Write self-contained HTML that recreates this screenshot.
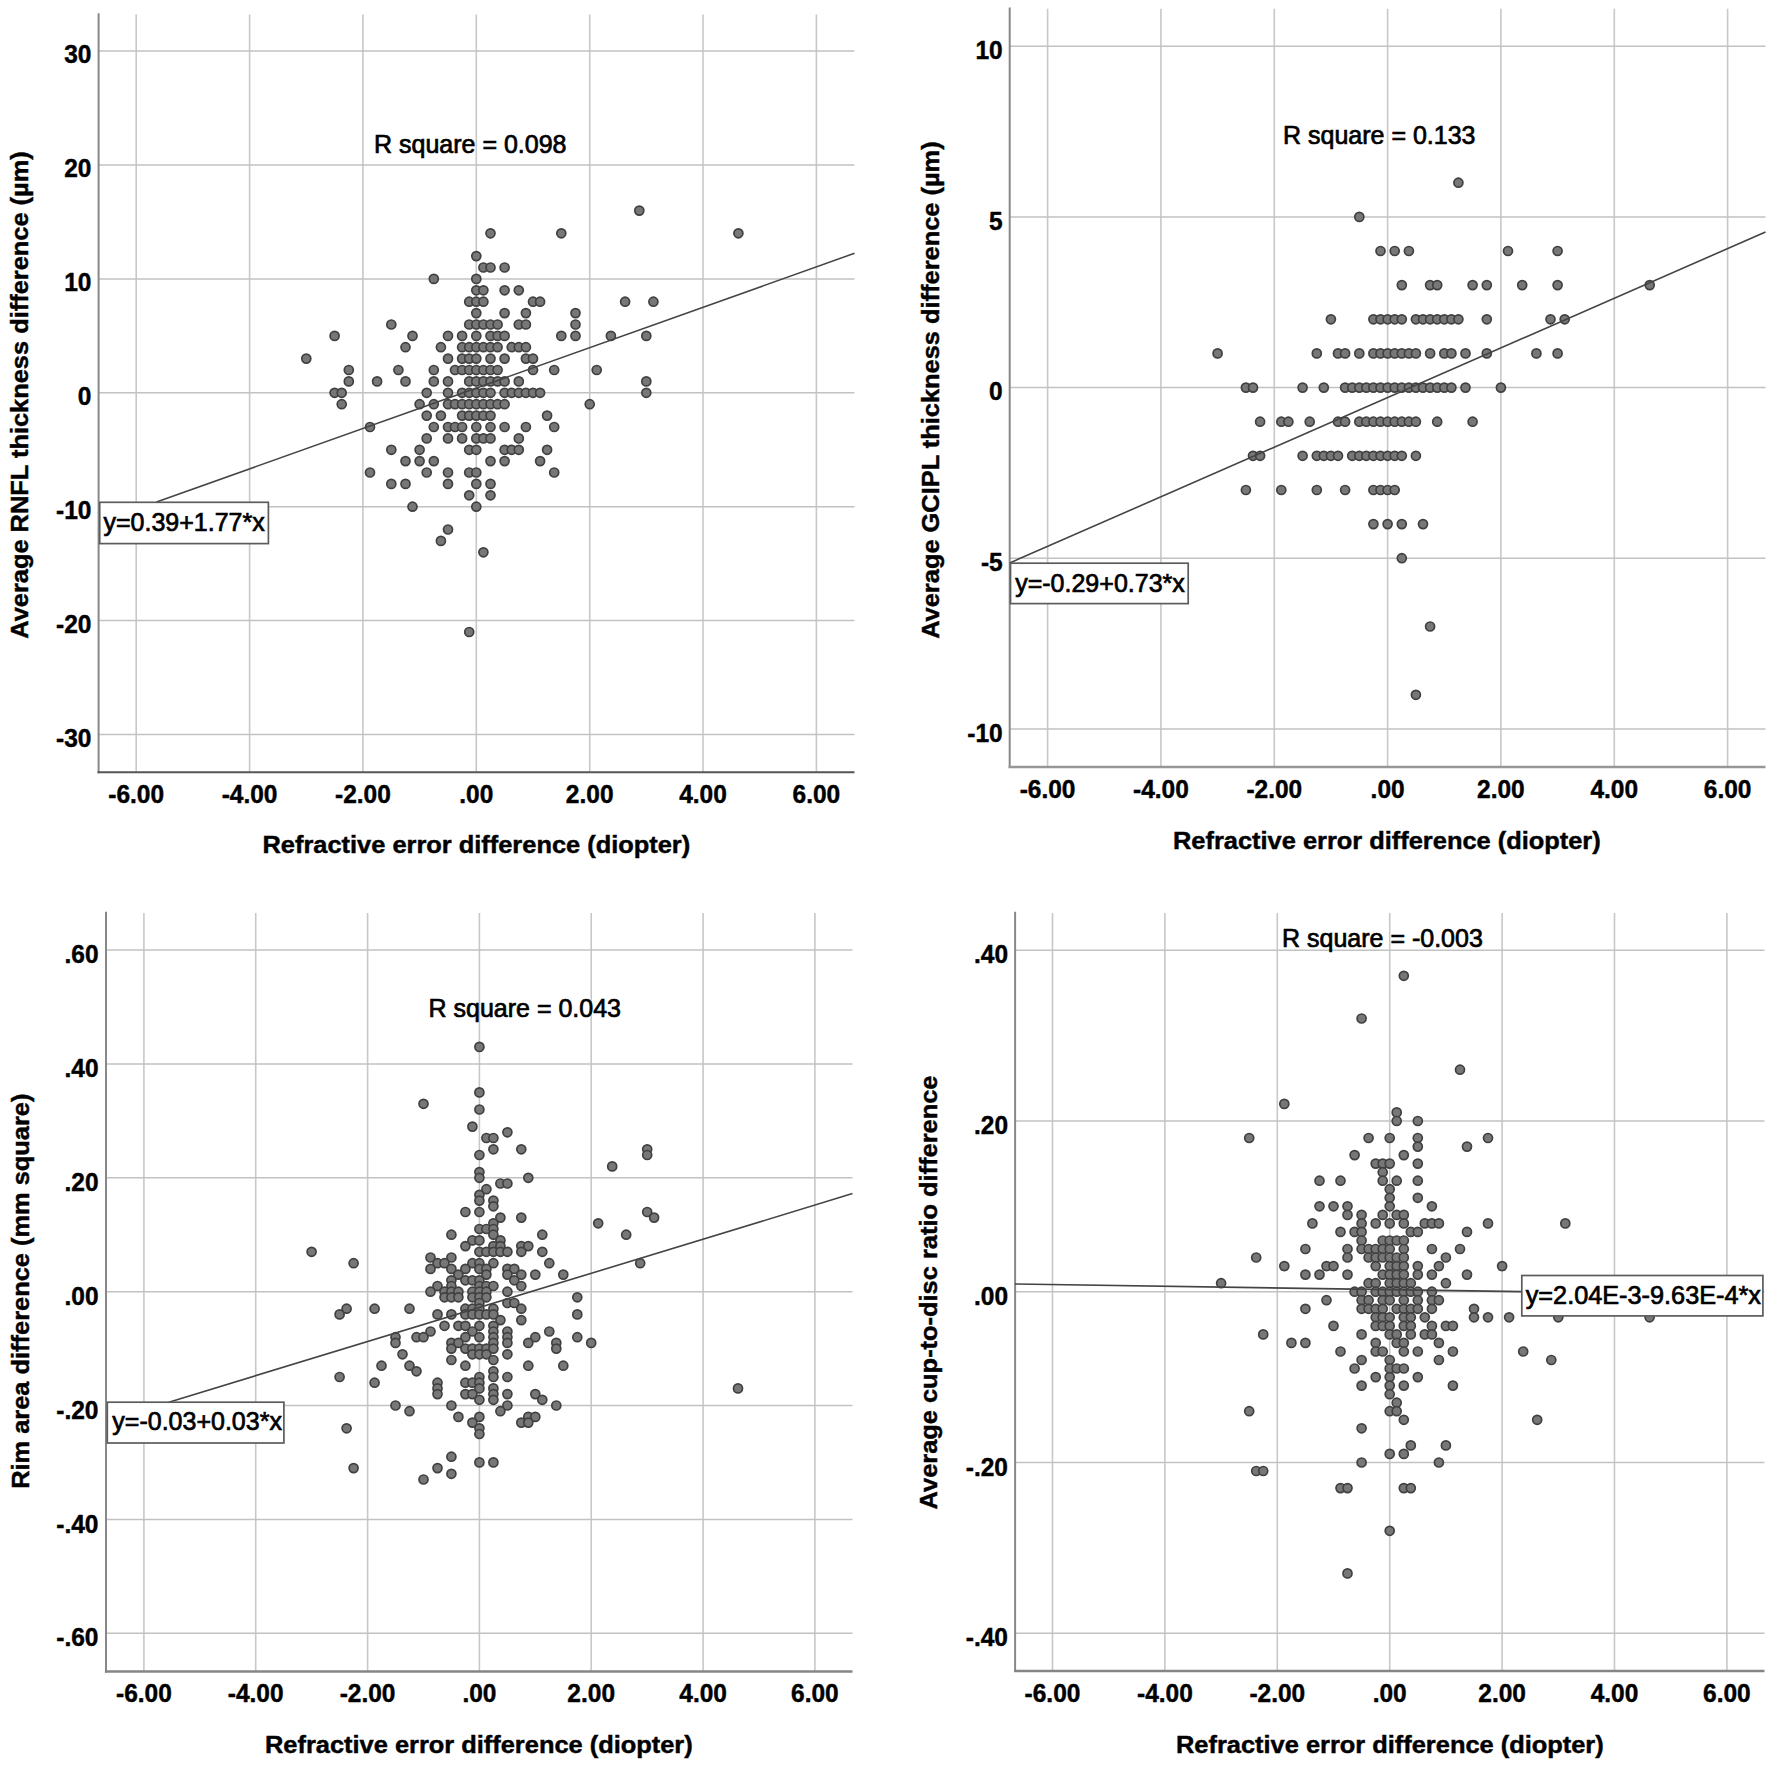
<!DOCTYPE html>
<html lang="en"><head><meta charset="utf-8"><title>Scatter plots: inter-eye differences vs refractive error difference</title>
<style>
html,body{margin:0;padding:0;background:#fff}
body{width:1774px;height:1771px;overflow:hidden}
svg{display:block}
text{font-family:"Liberation Sans",Arial,Helvetica,sans-serif;fill:#000;stroke:#000;stroke-width:0.45;paint-order:stroke fill}
.b{font-weight:700}
.r{font-weight:400;stroke-width:0.7}
.d circle{fill:#777777;stroke:#404040;stroke-width:1.7}
.gv line{stroke:#c8c8c8;stroke-width:1.6}
.gh line{stroke:#c2c2c2;stroke-width:1.5}
</style></head><body>
<svg width="1774" height="1771" viewBox="0 0 1774 1771">
<rect width="1774" height="1771" fill="#fff"/>
<g id="p1">
<g class="gv">
<line x1="136.2" y1="14.4" x2="136.2" y2="772.2"/>
<line x1="249.6" y1="14.4" x2="249.6" y2="772.2"/>
<line x1="362.9" y1="14.4" x2="362.9" y2="772.2"/>
<line x1="476.3" y1="14.4" x2="476.3" y2="772.2"/>
<line x1="589.7" y1="14.4" x2="589.7" y2="772.2"/>
<line x1="703" y1="14.4" x2="703" y2="772.2"/>
<line x1="816.4" y1="14.4" x2="816.4" y2="772.2"/>
</g><g class="gh">
<line x1="98.6" y1="51.1" x2="854.5" y2="51.1"/>
<line x1="98.6" y1="165" x2="854.5" y2="165"/>
<line x1="98.6" y1="278.9" x2="854.5" y2="278.9"/>
<line x1="98.6" y1="392.8" x2="854.5" y2="392.8"/>
<line x1="98.6" y1="506.7" x2="854.5" y2="506.7"/>
<line x1="98.6" y1="620.6" x2="854.5" y2="620.6"/>
<line x1="98.6" y1="734.5" x2="854.5" y2="734.5"/>
</g>
<line x1="98.6" y1="13.2" x2="98.6" y2="773.2" stroke="#888888" stroke-width="2"/>
<line x1="97.5" y1="772.2" x2="854.5" y2="772.2" stroke="#555555" stroke-width="2.0"/>
<g class="d">
<circle cx="639.3" cy="210.6" r="4.5"/>
<circle cx="490.5" cy="233.3" r="4.5"/>
<circle cx="561.3" cy="233.3" r="4.5"/>
<circle cx="738.4" cy="233.3" r="4.5"/>
<circle cx="476.3" cy="256.1" r="4.5"/>
<circle cx="483.4" cy="267.5" r="4.5"/>
<circle cx="490.5" cy="267.5" r="4.5"/>
<circle cx="504.6" cy="267.5" r="4.5"/>
<circle cx="433.8" cy="278.9" r="4.5"/>
<circle cx="476.3" cy="278.9" r="4.5"/>
<circle cx="476.3" cy="290.3" r="4.5"/>
<circle cx="483.4" cy="290.3" r="4.5"/>
<circle cx="504.6" cy="290.3" r="4.5"/>
<circle cx="518.8" cy="290.3" r="4.5"/>
<circle cx="469.2" cy="301.7" r="4.5"/>
<circle cx="476.3" cy="301.7" r="4.5"/>
<circle cx="483.4" cy="301.7" r="4.5"/>
<circle cx="533" cy="301.7" r="4.5"/>
<circle cx="540.1" cy="301.7" r="4.5"/>
<circle cx="625.1" cy="301.7" r="4.5"/>
<circle cx="653.4" cy="301.7" r="4.5"/>
<circle cx="476.3" cy="313.1" r="4.5"/>
<circle cx="504.6" cy="313.1" r="4.5"/>
<circle cx="525.9" cy="313.1" r="4.5"/>
<circle cx="575.5" cy="313.1" r="4.5"/>
<circle cx="391.3" cy="324.5" r="4.5"/>
<circle cx="469.2" cy="324.5" r="4.5"/>
<circle cx="476.3" cy="324.5" r="4.5"/>
<circle cx="483.4" cy="324.5" r="4.5"/>
<circle cx="490.5" cy="324.5" r="4.5"/>
<circle cx="497.6" cy="324.5" r="4.5"/>
<circle cx="518.8" cy="324.5" r="4.5"/>
<circle cx="525.9" cy="324.5" r="4.5"/>
<circle cx="575.5" cy="324.5" r="4.5"/>
<circle cx="334.6" cy="335.9" r="4.5"/>
<circle cx="412.5" cy="335.9" r="4.5"/>
<circle cx="448" cy="335.9" r="4.5"/>
<circle cx="462.1" cy="335.9" r="4.5"/>
<circle cx="476.3" cy="335.9" r="4.5"/>
<circle cx="490.5" cy="335.9" r="4.5"/>
<circle cx="497.6" cy="335.9" r="4.5"/>
<circle cx="504.6" cy="335.9" r="4.5"/>
<circle cx="561.3" cy="335.9" r="4.5"/>
<circle cx="575.5" cy="335.9" r="4.5"/>
<circle cx="610.9" cy="335.9" r="4.5"/>
<circle cx="646.3" cy="335.9" r="4.5"/>
<circle cx="405.5" cy="347.2" r="4.5"/>
<circle cx="440.9" cy="347.2" r="4.5"/>
<circle cx="462.1" cy="347.2" r="4.5"/>
<circle cx="469.2" cy="347.2" r="4.5"/>
<circle cx="476.3" cy="347.2" r="4.5"/>
<circle cx="483.4" cy="347.2" r="4.5"/>
<circle cx="490.5" cy="347.2" r="4.5"/>
<circle cx="497.6" cy="347.2" r="4.5"/>
<circle cx="511.7" cy="347.2" r="4.5"/>
<circle cx="518.8" cy="347.2" r="4.5"/>
<circle cx="525.9" cy="347.2" r="4.5"/>
<circle cx="306.3" cy="358.6" r="4.5"/>
<circle cx="448" cy="358.6" r="4.5"/>
<circle cx="462.1" cy="358.6" r="4.5"/>
<circle cx="469.2" cy="358.6" r="4.5"/>
<circle cx="476.3" cy="358.6" r="4.5"/>
<circle cx="490.5" cy="358.6" r="4.5"/>
<circle cx="504.6" cy="358.6" r="4.5"/>
<circle cx="525.9" cy="358.6" r="4.5"/>
<circle cx="533" cy="358.6" r="4.5"/>
<circle cx="348.8" cy="370" r="4.5"/>
<circle cx="398.4" cy="370" r="4.5"/>
<circle cx="433.8" cy="370" r="4.5"/>
<circle cx="455" cy="370" r="4.5"/>
<circle cx="462.1" cy="370" r="4.5"/>
<circle cx="469.2" cy="370" r="4.5"/>
<circle cx="476.3" cy="370" r="4.5"/>
<circle cx="483.4" cy="370" r="4.5"/>
<circle cx="490.5" cy="370" r="4.5"/>
<circle cx="497.6" cy="370" r="4.5"/>
<circle cx="533" cy="370" r="4.5"/>
<circle cx="554.2" cy="370" r="4.5"/>
<circle cx="596.7" cy="370" r="4.5"/>
<circle cx="348.8" cy="381.4" r="4.5"/>
<circle cx="377.1" cy="381.4" r="4.5"/>
<circle cx="405.5" cy="381.4" r="4.5"/>
<circle cx="433.8" cy="381.4" r="4.5"/>
<circle cx="448" cy="381.4" r="4.5"/>
<circle cx="469.2" cy="381.4" r="4.5"/>
<circle cx="476.3" cy="381.4" r="4.5"/>
<circle cx="483.4" cy="381.4" r="4.5"/>
<circle cx="490.5" cy="381.4" r="4.5"/>
<circle cx="497.6" cy="381.4" r="4.5"/>
<circle cx="504.6" cy="381.4" r="4.5"/>
<circle cx="518.8" cy="381.4" r="4.5"/>
<circle cx="646.3" cy="381.4" r="4.5"/>
<circle cx="334.6" cy="392.8" r="4.5"/>
<circle cx="341.7" cy="392.8" r="4.5"/>
<circle cx="426.7" cy="392.8" r="4.5"/>
<circle cx="448" cy="392.8" r="4.5"/>
<circle cx="462.1" cy="392.8" r="4.5"/>
<circle cx="469.2" cy="392.8" r="4.5"/>
<circle cx="476.3" cy="392.8" r="4.5"/>
<circle cx="483.4" cy="392.8" r="4.5"/>
<circle cx="490.5" cy="392.8" r="4.5"/>
<circle cx="504.6" cy="392.8" r="4.5"/>
<circle cx="511.7" cy="392.8" r="4.5"/>
<circle cx="518.8" cy="392.8" r="4.5"/>
<circle cx="525.9" cy="392.8" r="4.5"/>
<circle cx="533" cy="392.8" r="4.5"/>
<circle cx="540.1" cy="392.8" r="4.5"/>
<circle cx="646.3" cy="392.8" r="4.5"/>
<circle cx="341.7" cy="404.2" r="4.5"/>
<circle cx="419.6" cy="404.2" r="4.5"/>
<circle cx="433.8" cy="404.2" r="4.5"/>
<circle cx="448" cy="404.2" r="4.5"/>
<circle cx="455" cy="404.2" r="4.5"/>
<circle cx="462.1" cy="404.2" r="4.5"/>
<circle cx="469.2" cy="404.2" r="4.5"/>
<circle cx="476.3" cy="404.2" r="4.5"/>
<circle cx="483.4" cy="404.2" r="4.5"/>
<circle cx="490.5" cy="404.2" r="4.5"/>
<circle cx="497.6" cy="404.2" r="4.5"/>
<circle cx="504.6" cy="404.2" r="4.5"/>
<circle cx="589.7" cy="404.2" r="4.5"/>
<circle cx="426.7" cy="415.6" r="4.5"/>
<circle cx="440.9" cy="415.6" r="4.5"/>
<circle cx="462.1" cy="415.6" r="4.5"/>
<circle cx="469.2" cy="415.6" r="4.5"/>
<circle cx="476.3" cy="415.6" r="4.5"/>
<circle cx="483.4" cy="415.6" r="4.5"/>
<circle cx="490.5" cy="415.6" r="4.5"/>
<circle cx="547.1" cy="415.6" r="4.5"/>
<circle cx="370" cy="427" r="4.5"/>
<circle cx="433.8" cy="427" r="4.5"/>
<circle cx="448" cy="427" r="4.5"/>
<circle cx="455" cy="427" r="4.5"/>
<circle cx="462.1" cy="427" r="4.5"/>
<circle cx="476.3" cy="427" r="4.5"/>
<circle cx="490.5" cy="427" r="4.5"/>
<circle cx="504.6" cy="427" r="4.5"/>
<circle cx="525.9" cy="427" r="4.5"/>
<circle cx="554.2" cy="427" r="4.5"/>
<circle cx="426.7" cy="438.4" r="4.5"/>
<circle cx="448" cy="438.4" r="4.5"/>
<circle cx="462.1" cy="438.4" r="4.5"/>
<circle cx="476.3" cy="438.4" r="4.5"/>
<circle cx="483.4" cy="438.4" r="4.5"/>
<circle cx="490.5" cy="438.4" r="4.5"/>
<circle cx="518.8" cy="438.4" r="4.5"/>
<circle cx="391.3" cy="449.8" r="4.5"/>
<circle cx="419.6" cy="449.8" r="4.5"/>
<circle cx="469.2" cy="449.8" r="4.5"/>
<circle cx="476.3" cy="449.8" r="4.5"/>
<circle cx="504.6" cy="449.8" r="4.5"/>
<circle cx="511.7" cy="449.8" r="4.5"/>
<circle cx="518.8" cy="449.8" r="4.5"/>
<circle cx="547.1" cy="449.8" r="4.5"/>
<circle cx="405.5" cy="461.1" r="4.5"/>
<circle cx="419.6" cy="461.1" r="4.5"/>
<circle cx="433.8" cy="461.1" r="4.5"/>
<circle cx="490.5" cy="461.1" r="4.5"/>
<circle cx="504.6" cy="461.1" r="4.5"/>
<circle cx="540.1" cy="461.1" r="4.5"/>
<circle cx="370" cy="472.5" r="4.5"/>
<circle cx="426.7" cy="472.5" r="4.5"/>
<circle cx="448" cy="472.5" r="4.5"/>
<circle cx="469.2" cy="472.5" r="4.5"/>
<circle cx="476.3" cy="472.5" r="4.5"/>
<circle cx="554.2" cy="472.5" r="4.5"/>
<circle cx="391.3" cy="483.9" r="4.5"/>
<circle cx="405.5" cy="483.9" r="4.5"/>
<circle cx="448" cy="483.9" r="4.5"/>
<circle cx="476.3" cy="483.9" r="4.5"/>
<circle cx="490.5" cy="483.9" r="4.5"/>
<circle cx="469.2" cy="495.3" r="4.5"/>
<circle cx="490.5" cy="495.3" r="4.5"/>
<circle cx="412.5" cy="506.7" r="4.5"/>
<circle cx="476.3" cy="506.7" r="4.5"/>
<circle cx="448" cy="529.5" r="4.5"/>
<circle cx="440.9" cy="540.9" r="4.5"/>
<circle cx="483.4" cy="552.3" r="4.5"/>
<circle cx="469.2" cy="632" r="4.5"/>
</g>
<line x1="156.5" y1="502" x2="854.5" y2="253.3" stroke="#444" stroke-width="1.6"/>
<rect x="99.7" y="502.3" width="168.7" height="41.3" fill="#fff" stroke="#5c5c5c" stroke-width="1.7"/>
<text class="r" x="103.5" y="530.6" font-size="25" textLength="161.2" lengthAdjust="spacingAndGlyphs">y=0.39+1.77*x</text>
<text class="r" x="374" y="153.2" font-size="25">R square = 0.098</text>
<text class="b" x="91.4" y="63.3" font-size="25.2" text-anchor="end" textLength="27.2" lengthAdjust="spacingAndGlyphs">30</text>
<text class="b" x="91.4" y="177.2" font-size="25.2" text-anchor="end" textLength="27.2" lengthAdjust="spacingAndGlyphs">20</text>
<text class="b" x="91.4" y="291.1" font-size="25.2" text-anchor="end" textLength="27.2" lengthAdjust="spacingAndGlyphs">10</text>
<text class="b" x="91.4" y="405" font-size="25.2" text-anchor="end" textLength="13.6" lengthAdjust="spacingAndGlyphs">0</text>
<text class="b" x="91.4" y="518.9" font-size="25.2" text-anchor="end" textLength="35.4" lengthAdjust="spacingAndGlyphs">-10</text>
<text class="b" x="91.4" y="632.8" font-size="25.2" text-anchor="end" textLength="35.4" lengthAdjust="spacingAndGlyphs">-20</text>
<text class="b" x="91.4" y="746.7" font-size="25.2" text-anchor="end" textLength="35.4" lengthAdjust="spacingAndGlyphs">-30</text>
<text class="b" x="136.2" y="802.8" font-size="25.2" text-anchor="middle" textLength="55.8" lengthAdjust="spacingAndGlyphs">-6.00</text>
<text class="b" x="249.6" y="802.8" font-size="25.2" text-anchor="middle" textLength="55.8" lengthAdjust="spacingAndGlyphs">-4.00</text>
<text class="b" x="362.9" y="802.8" font-size="25.2" text-anchor="middle" textLength="55.8" lengthAdjust="spacingAndGlyphs">-2.00</text>
<text class="b" x="476.3" y="802.8" font-size="25.2" text-anchor="middle" textLength="34" lengthAdjust="spacingAndGlyphs">.00</text>
<text class="b" x="589.7" y="802.8" font-size="25.2" text-anchor="middle" textLength="47.7" lengthAdjust="spacingAndGlyphs">2.00</text>
<text class="b" x="703" y="802.8" font-size="25.2" text-anchor="middle" textLength="47.7" lengthAdjust="spacingAndGlyphs">4.00</text>
<text class="b" x="816.4" y="802.8" font-size="25.2" text-anchor="middle" textLength="47.7" lengthAdjust="spacingAndGlyphs">6.00</text>
<text class="b" x="262.5" y="853" font-size="24.6" textLength="427.7" lengthAdjust="spacingAndGlyphs">Refractive error difference (diopter)</text>
<text class="b" transform="translate(28.4 395) rotate(-90)" font-size="24.6" text-anchor="middle" textLength="487.5" lengthAdjust="spacingAndGlyphs">Average RNFL thickness difference (µm)</text>
</g>
<g id="p2">
<g class="gv">
<line x1="1047.6" y1="8.8" x2="1047.6" y2="767"/>
<line x1="1160.9" y1="8.8" x2="1160.9" y2="767"/>
<line x1="1274.3" y1="8.8" x2="1274.3" y2="767"/>
<line x1="1387.6" y1="8.8" x2="1387.6" y2="767"/>
<line x1="1500.9" y1="8.8" x2="1500.9" y2="767"/>
<line x1="1614.3" y1="8.8" x2="1614.3" y2="767"/>
<line x1="1727.6" y1="8.8" x2="1727.6" y2="767"/>
</g><g class="gh">
<line x1="1009.7" y1="46.2" x2="1765.5" y2="46.2"/>
<line x1="1009.7" y1="216.9" x2="1765.5" y2="216.9"/>
<line x1="1009.7" y1="387.6" x2="1765.5" y2="387.6"/>
<line x1="1009.7" y1="558.2" x2="1765.5" y2="558.2"/>
<line x1="1009.7" y1="728.9" x2="1765.5" y2="728.9"/>
</g>
<line x1="1009.7" y1="7.6" x2="1009.7" y2="768" stroke="#888888" stroke-width="2"/>
<line x1="1008.6" y1="767" x2="1765.5" y2="767" stroke="#969696" stroke-width="2.6"/>
<g class="d">
<circle cx="1458.4" cy="182.7" r="4.5"/>
<circle cx="1359.3" cy="216.9" r="4.5"/>
<circle cx="1380.5" cy="251" r="4.5"/>
<circle cx="1394.7" cy="251" r="4.5"/>
<circle cx="1408.9" cy="251" r="4.5"/>
<circle cx="1508" cy="251" r="4.5"/>
<circle cx="1557.6" cy="251" r="4.5"/>
<circle cx="1401.8" cy="285.1" r="4.5"/>
<circle cx="1430.1" cy="285.1" r="4.5"/>
<circle cx="1437.2" cy="285.1" r="4.5"/>
<circle cx="1472.6" cy="285.1" r="4.5"/>
<circle cx="1486.8" cy="285.1" r="4.5"/>
<circle cx="1522.2" cy="285.1" r="4.5"/>
<circle cx="1557.6" cy="285.1" r="4.5"/>
<circle cx="1649.7" cy="285.1" r="4.5"/>
<circle cx="1330.9" cy="319.3" r="4.5"/>
<circle cx="1373.4" cy="319.3" r="4.5"/>
<circle cx="1380.5" cy="319.3" r="4.5"/>
<circle cx="1387.6" cy="319.3" r="4.5"/>
<circle cx="1394.7" cy="319.3" r="4.5"/>
<circle cx="1401.8" cy="319.3" r="4.5"/>
<circle cx="1415.9" cy="319.3" r="4.5"/>
<circle cx="1423" cy="319.3" r="4.5"/>
<circle cx="1430.1" cy="319.3" r="4.5"/>
<circle cx="1437.2" cy="319.3" r="4.5"/>
<circle cx="1444.3" cy="319.3" r="4.5"/>
<circle cx="1451.4" cy="319.3" r="4.5"/>
<circle cx="1458.4" cy="319.3" r="4.5"/>
<circle cx="1486.8" cy="319.3" r="4.5"/>
<circle cx="1550.5" cy="319.3" r="4.5"/>
<circle cx="1564.7" cy="319.3" r="4.5"/>
<circle cx="1217.6" cy="353.4" r="4.5"/>
<circle cx="1316.8" cy="353.4" r="4.5"/>
<circle cx="1338" cy="353.4" r="4.5"/>
<circle cx="1345.1" cy="353.4" r="4.5"/>
<circle cx="1359.3" cy="353.4" r="4.5"/>
<circle cx="1373.4" cy="353.4" r="4.5"/>
<circle cx="1380.5" cy="353.4" r="4.5"/>
<circle cx="1387.6" cy="353.4" r="4.5"/>
<circle cx="1394.7" cy="353.4" r="4.5"/>
<circle cx="1401.8" cy="353.4" r="4.5"/>
<circle cx="1408.9" cy="353.4" r="4.5"/>
<circle cx="1415.9" cy="353.4" r="4.5"/>
<circle cx="1430.1" cy="353.4" r="4.5"/>
<circle cx="1444.3" cy="353.4" r="4.5"/>
<circle cx="1451.4" cy="353.4" r="4.5"/>
<circle cx="1465.5" cy="353.4" r="4.5"/>
<circle cx="1486.8" cy="353.4" r="4.5"/>
<circle cx="1536.4" cy="353.4" r="4.5"/>
<circle cx="1557.6" cy="353.4" r="4.5"/>
<circle cx="1245.9" cy="387.6" r="4.5"/>
<circle cx="1253" cy="387.6" r="4.5"/>
<circle cx="1302.6" cy="387.6" r="4.5"/>
<circle cx="1323.8" cy="387.6" r="4.5"/>
<circle cx="1345.1" cy="387.6" r="4.5"/>
<circle cx="1352.2" cy="387.6" r="4.5"/>
<circle cx="1359.3" cy="387.6" r="4.5"/>
<circle cx="1366.3" cy="387.6" r="4.5"/>
<circle cx="1373.4" cy="387.6" r="4.5"/>
<circle cx="1380.5" cy="387.6" r="4.5"/>
<circle cx="1387.6" cy="387.6" r="4.5"/>
<circle cx="1394.7" cy="387.6" r="4.5"/>
<circle cx="1401.8" cy="387.6" r="4.5"/>
<circle cx="1408.9" cy="387.6" r="4.5"/>
<circle cx="1415.9" cy="387.6" r="4.5"/>
<circle cx="1423" cy="387.6" r="4.5"/>
<circle cx="1430.1" cy="387.6" r="4.5"/>
<circle cx="1437.2" cy="387.6" r="4.5"/>
<circle cx="1444.3" cy="387.6" r="4.5"/>
<circle cx="1451.4" cy="387.6" r="4.5"/>
<circle cx="1465.5" cy="387.6" r="4.5"/>
<circle cx="1500.9" cy="387.6" r="4.5"/>
<circle cx="1260.1" cy="421.7" r="4.5"/>
<circle cx="1281.3" cy="421.7" r="4.5"/>
<circle cx="1288.4" cy="421.7" r="4.5"/>
<circle cx="1309.7" cy="421.7" r="4.5"/>
<circle cx="1338" cy="421.7" r="4.5"/>
<circle cx="1345.1" cy="421.7" r="4.5"/>
<circle cx="1359.3" cy="421.7" r="4.5"/>
<circle cx="1366.3" cy="421.7" r="4.5"/>
<circle cx="1373.4" cy="421.7" r="4.5"/>
<circle cx="1380.5" cy="421.7" r="4.5"/>
<circle cx="1387.6" cy="421.7" r="4.5"/>
<circle cx="1394.7" cy="421.7" r="4.5"/>
<circle cx="1401.8" cy="421.7" r="4.5"/>
<circle cx="1408.9" cy="421.7" r="4.5"/>
<circle cx="1415.9" cy="421.7" r="4.5"/>
<circle cx="1437.2" cy="421.7" r="4.5"/>
<circle cx="1472.6" cy="421.7" r="4.5"/>
<circle cx="1253" cy="455.8" r="4.5"/>
<circle cx="1260.1" cy="455.8" r="4.5"/>
<circle cx="1302.6" cy="455.8" r="4.5"/>
<circle cx="1316.8" cy="455.8" r="4.5"/>
<circle cx="1323.8" cy="455.8" r="4.5"/>
<circle cx="1330.9" cy="455.8" r="4.5"/>
<circle cx="1338" cy="455.8" r="4.5"/>
<circle cx="1352.2" cy="455.8" r="4.5"/>
<circle cx="1359.3" cy="455.8" r="4.5"/>
<circle cx="1366.3" cy="455.8" r="4.5"/>
<circle cx="1373.4" cy="455.8" r="4.5"/>
<circle cx="1380.5" cy="455.8" r="4.5"/>
<circle cx="1387.6" cy="455.8" r="4.5"/>
<circle cx="1394.7" cy="455.8" r="4.5"/>
<circle cx="1401.8" cy="455.8" r="4.5"/>
<circle cx="1415.9" cy="455.8" r="4.5"/>
<circle cx="1245.9" cy="490" r="4.5"/>
<circle cx="1281.3" cy="490" r="4.5"/>
<circle cx="1316.8" cy="490" r="4.5"/>
<circle cx="1345.1" cy="490" r="4.5"/>
<circle cx="1373.4" cy="490" r="4.5"/>
<circle cx="1380.5" cy="490" r="4.5"/>
<circle cx="1387.6" cy="490" r="4.5"/>
<circle cx="1394.7" cy="490" r="4.5"/>
<circle cx="1373.4" cy="524.1" r="4.5"/>
<circle cx="1387.6" cy="524.1" r="4.5"/>
<circle cx="1401.8" cy="524.1" r="4.5"/>
<circle cx="1423" cy="524.1" r="4.5"/>
<circle cx="1401.8" cy="558.2" r="4.5"/>
<circle cx="1430.1" cy="626.5" r="4.5"/>
<circle cx="1415.9" cy="694.8" r="4.5"/>
</g>
<line x1="1009.7" y1="563" x2="1765.5" y2="232" stroke="#444" stroke-width="1.6"/>
<rect x="1010.5" y="563.2" width="177.7" height="40.4" fill="#fff" stroke="#5c5c5c" stroke-width="1.7"/>
<text class="r" x="1015.2" y="592.3" font-size="25" textLength="169.6" lengthAdjust="spacingAndGlyphs">y=-0.29+0.73*x</text>
<text class="r" x="1283" y="144" font-size="25">R square = 0.133</text>
<text class="b" x="1002.7" y="59" font-size="25.2" text-anchor="end" textLength="27.2" lengthAdjust="spacingAndGlyphs">10</text>
<text class="b" x="1002.7" y="229.7" font-size="25.2" text-anchor="end" textLength="13.6" lengthAdjust="spacingAndGlyphs">5</text>
<text class="b" x="1002.7" y="400.4" font-size="25.2" text-anchor="end" textLength="13.6" lengthAdjust="spacingAndGlyphs">0</text>
<text class="b" x="1002.7" y="571" font-size="25.2" text-anchor="end" textLength="21.8" lengthAdjust="spacingAndGlyphs">-5</text>
<text class="b" x="1002.7" y="741.7" font-size="25.2" text-anchor="end" textLength="35.4" lengthAdjust="spacingAndGlyphs">-10</text>
<text class="b" x="1047.6" y="798" font-size="25.2" text-anchor="middle" textLength="55.8" lengthAdjust="spacingAndGlyphs">-6.00</text>
<text class="b" x="1160.9" y="798" font-size="25.2" text-anchor="middle" textLength="55.8" lengthAdjust="spacingAndGlyphs">-4.00</text>
<text class="b" x="1274.3" y="798" font-size="25.2" text-anchor="middle" textLength="55.8" lengthAdjust="spacingAndGlyphs">-2.00</text>
<text class="b" x="1387.6" y="798" font-size="25.2" text-anchor="middle" textLength="34" lengthAdjust="spacingAndGlyphs">.00</text>
<text class="b" x="1500.9" y="798" font-size="25.2" text-anchor="middle" textLength="47.7" lengthAdjust="spacingAndGlyphs">2.00</text>
<text class="b" x="1614.3" y="798" font-size="25.2" text-anchor="middle" textLength="47.7" lengthAdjust="spacingAndGlyphs">4.00</text>
<text class="b" x="1727.6" y="798" font-size="25.2" text-anchor="middle" textLength="47.7" lengthAdjust="spacingAndGlyphs">6.00</text>
<text class="b" x="1173" y="849" font-size="24.6" textLength="427.7" lengthAdjust="spacingAndGlyphs">Refractive error difference (diopter)</text>
<text class="b" transform="translate(939 390.1) rotate(-90)" font-size="24.6" text-anchor="middle" textLength="497.4" lengthAdjust="spacingAndGlyphs">Average GCIPL thickness difference (µm)</text>
</g>
<g id="p3">
<g class="gv">
<line x1="143.9" y1="912.9" x2="143.9" y2="1671.5"/>
<line x1="255.7" y1="912.9" x2="255.7" y2="1671.5"/>
<line x1="367.6" y1="912.9" x2="367.6" y2="1671.5"/>
<line x1="479.4" y1="912.9" x2="479.4" y2="1671.5"/>
<line x1="591.2" y1="912.9" x2="591.2" y2="1671.5"/>
<line x1="703.1" y1="912.9" x2="703.1" y2="1671.5"/>
<line x1="814.9" y1="912.9" x2="814.9" y2="1671.5"/>
</g><g class="gh">
<line x1="106" y1="950.1" x2="852.5" y2="950.1"/>
<line x1="106" y1="1064" x2="852.5" y2="1064"/>
<line x1="106" y1="1177.8" x2="852.5" y2="1177.8"/>
<line x1="106" y1="1291.7" x2="852.5" y2="1291.7"/>
<line x1="106" y1="1405.5" x2="852.5" y2="1405.5"/>
<line x1="106" y1="1519.4" x2="852.5" y2="1519.4"/>
<line x1="106" y1="1633.2" x2="852.5" y2="1633.2"/>
</g>
<line x1="106" y1="911.7" x2="106" y2="1672.5" stroke="#888888" stroke-width="2"/>
<line x1="104.9" y1="1671.5" x2="852.5" y2="1671.5" stroke="#858585" stroke-width="2.4"/>
<g class="d">
<circle cx="479.4" cy="1046.9" r="4.5"/>
<circle cx="479.4" cy="1092.4" r="4.5"/>
<circle cx="423.5" cy="1103.8" r="4.5"/>
<circle cx="479.4" cy="1109.5" r="4.5"/>
<circle cx="472.4" cy="1126.6" r="4.5"/>
<circle cx="507.4" cy="1132.3" r="4.5"/>
<circle cx="486.4" cy="1138" r="4.5"/>
<circle cx="493.4" cy="1138" r="4.5"/>
<circle cx="493.4" cy="1149.3" r="4.5"/>
<circle cx="521.3" cy="1149.3" r="4.5"/>
<circle cx="647.2" cy="1149.3" r="4.5"/>
<circle cx="479.4" cy="1155" r="4.5"/>
<circle cx="647.2" cy="1155" r="4.5"/>
<circle cx="612.2" cy="1166.4" r="4.5"/>
<circle cx="479.4" cy="1172.1" r="4.5"/>
<circle cx="479.4" cy="1177.8" r="4.5"/>
<circle cx="528.3" cy="1177.8" r="4.5"/>
<circle cx="500.4" cy="1183.5" r="4.5"/>
<circle cx="507.4" cy="1183.5" r="4.5"/>
<circle cx="486.4" cy="1189.2" r="4.5"/>
<circle cx="479.4" cy="1194.9" r="4.5"/>
<circle cx="479.4" cy="1200.6" r="4.5"/>
<circle cx="493.4" cy="1200.6" r="4.5"/>
<circle cx="493.4" cy="1206.3" r="4.5"/>
<circle cx="465.4" cy="1212" r="4.5"/>
<circle cx="479.4" cy="1212" r="4.5"/>
<circle cx="647.2" cy="1212" r="4.5"/>
<circle cx="500.4" cy="1217.6" r="4.5"/>
<circle cx="521.3" cy="1217.6" r="4.5"/>
<circle cx="654.1" cy="1217.6" r="4.5"/>
<circle cx="493.4" cy="1223.3" r="4.5"/>
<circle cx="598.2" cy="1223.3" r="4.5"/>
<circle cx="479.4" cy="1229" r="4.5"/>
<circle cx="486.4" cy="1229" r="4.5"/>
<circle cx="493.4" cy="1229" r="4.5"/>
<circle cx="451.4" cy="1234.7" r="4.5"/>
<circle cx="493.4" cy="1234.7" r="4.5"/>
<circle cx="542.3" cy="1234.7" r="4.5"/>
<circle cx="626.2" cy="1234.7" r="4.5"/>
<circle cx="472.4" cy="1240.4" r="4.5"/>
<circle cx="479.4" cy="1240.4" r="4.5"/>
<circle cx="500.4" cy="1240.4" r="4.5"/>
<circle cx="465.4" cy="1246.1" r="4.5"/>
<circle cx="493.4" cy="1246.1" r="4.5"/>
<circle cx="500.4" cy="1246.1" r="4.5"/>
<circle cx="521.3" cy="1246.1" r="4.5"/>
<circle cx="528.3" cy="1246.1" r="4.5"/>
<circle cx="311.6" cy="1251.8" r="4.5"/>
<circle cx="479.4" cy="1251.8" r="4.5"/>
<circle cx="486.4" cy="1251.8" r="4.5"/>
<circle cx="493.4" cy="1251.8" r="4.5"/>
<circle cx="500.4" cy="1251.8" r="4.5"/>
<circle cx="507.4" cy="1251.8" r="4.5"/>
<circle cx="521.3" cy="1251.8" r="4.5"/>
<circle cx="542.3" cy="1251.8" r="4.5"/>
<circle cx="430.5" cy="1257.5" r="4.5"/>
<circle cx="451.4" cy="1257.5" r="4.5"/>
<circle cx="353.6" cy="1263.2" r="4.5"/>
<circle cx="437.5" cy="1263.2" r="4.5"/>
<circle cx="444.5" cy="1263.2" r="4.5"/>
<circle cx="472.4" cy="1263.2" r="4.5"/>
<circle cx="479.4" cy="1263.2" r="4.5"/>
<circle cx="493.4" cy="1263.2" r="4.5"/>
<circle cx="549.3" cy="1263.2" r="4.5"/>
<circle cx="640.2" cy="1263.2" r="4.5"/>
<circle cx="430.5" cy="1268.9" r="4.5"/>
<circle cx="451.4" cy="1268.9" r="4.5"/>
<circle cx="465.4" cy="1268.9" r="4.5"/>
<circle cx="479.4" cy="1268.9" r="4.5"/>
<circle cx="486.4" cy="1268.9" r="4.5"/>
<circle cx="507.4" cy="1268.9" r="4.5"/>
<circle cx="514.3" cy="1268.9" r="4.5"/>
<circle cx="458.4" cy="1274.6" r="4.5"/>
<circle cx="486.4" cy="1274.6" r="4.5"/>
<circle cx="507.4" cy="1274.6" r="4.5"/>
<circle cx="521.3" cy="1274.6" r="4.5"/>
<circle cx="535.3" cy="1274.6" r="4.5"/>
<circle cx="563.3" cy="1274.6" r="4.5"/>
<circle cx="451.4" cy="1280.3" r="4.5"/>
<circle cx="465.4" cy="1280.3" r="4.5"/>
<circle cx="472.4" cy="1280.3" r="4.5"/>
<circle cx="479.4" cy="1280.3" r="4.5"/>
<circle cx="514.3" cy="1280.3" r="4.5"/>
<circle cx="437.5" cy="1286" r="4.5"/>
<circle cx="451.4" cy="1286" r="4.5"/>
<circle cx="479.4" cy="1286" r="4.5"/>
<circle cx="486.4" cy="1286" r="4.5"/>
<circle cx="493.4" cy="1286" r="4.5"/>
<circle cx="521.3" cy="1286" r="4.5"/>
<circle cx="430.5" cy="1291.7" r="4.5"/>
<circle cx="444.5" cy="1291.7" r="4.5"/>
<circle cx="451.4" cy="1291.7" r="4.5"/>
<circle cx="458.4" cy="1291.7" r="4.5"/>
<circle cx="472.4" cy="1291.7" r="4.5"/>
<circle cx="479.4" cy="1291.7" r="4.5"/>
<circle cx="486.4" cy="1291.7" r="4.5"/>
<circle cx="507.4" cy="1291.7" r="4.5"/>
<circle cx="444.5" cy="1297.3" r="4.5"/>
<circle cx="451.4" cy="1297.3" r="4.5"/>
<circle cx="458.4" cy="1297.3" r="4.5"/>
<circle cx="472.4" cy="1297.3" r="4.5"/>
<circle cx="479.4" cy="1297.3" r="4.5"/>
<circle cx="486.4" cy="1297.3" r="4.5"/>
<circle cx="577.3" cy="1297.3" r="4.5"/>
<circle cx="479.4" cy="1303" r="4.5"/>
<circle cx="507.4" cy="1303" r="4.5"/>
<circle cx="514.3" cy="1303" r="4.5"/>
<circle cx="346.6" cy="1308.7" r="4.5"/>
<circle cx="374.6" cy="1308.7" r="4.5"/>
<circle cx="409.5" cy="1308.7" r="4.5"/>
<circle cx="465.4" cy="1308.7" r="4.5"/>
<circle cx="472.4" cy="1308.7" r="4.5"/>
<circle cx="479.4" cy="1308.7" r="4.5"/>
<circle cx="493.4" cy="1308.7" r="4.5"/>
<circle cx="521.3" cy="1308.7" r="4.5"/>
<circle cx="339.6" cy="1314.4" r="4.5"/>
<circle cx="437.5" cy="1314.4" r="4.5"/>
<circle cx="451.4" cy="1314.4" r="4.5"/>
<circle cx="465.4" cy="1314.4" r="4.5"/>
<circle cx="472.4" cy="1314.4" r="4.5"/>
<circle cx="479.4" cy="1314.4" r="4.5"/>
<circle cx="486.4" cy="1314.4" r="4.5"/>
<circle cx="493.4" cy="1314.4" r="4.5"/>
<circle cx="577.3" cy="1314.4" r="4.5"/>
<circle cx="500.4" cy="1320.1" r="4.5"/>
<circle cx="521.3" cy="1320.1" r="4.5"/>
<circle cx="444.5" cy="1325.8" r="4.5"/>
<circle cx="458.4" cy="1325.8" r="4.5"/>
<circle cx="465.4" cy="1325.8" r="4.5"/>
<circle cx="479.4" cy="1325.8" r="4.5"/>
<circle cx="493.4" cy="1325.8" r="4.5"/>
<circle cx="430.5" cy="1331.5" r="4.5"/>
<circle cx="472.4" cy="1331.5" r="4.5"/>
<circle cx="493.4" cy="1331.5" r="4.5"/>
<circle cx="507.4" cy="1331.5" r="4.5"/>
<circle cx="549.3" cy="1331.5" r="4.5"/>
<circle cx="395.5" cy="1337.2" r="4.5"/>
<circle cx="416.5" cy="1337.2" r="4.5"/>
<circle cx="423.5" cy="1337.2" r="4.5"/>
<circle cx="465.4" cy="1337.2" r="4.5"/>
<circle cx="479.4" cy="1337.2" r="4.5"/>
<circle cx="493.4" cy="1337.2" r="4.5"/>
<circle cx="507.4" cy="1337.2" r="4.5"/>
<circle cx="535.3" cy="1337.2" r="4.5"/>
<circle cx="577.3" cy="1337.2" r="4.5"/>
<circle cx="395.5" cy="1342.9" r="4.5"/>
<circle cx="451.4" cy="1342.9" r="4.5"/>
<circle cx="458.4" cy="1342.9" r="4.5"/>
<circle cx="493.4" cy="1342.9" r="4.5"/>
<circle cx="507.4" cy="1342.9" r="4.5"/>
<circle cx="528.3" cy="1342.9" r="4.5"/>
<circle cx="556.3" cy="1342.9" r="4.5"/>
<circle cx="591.2" cy="1342.9" r="4.5"/>
<circle cx="451.4" cy="1348.6" r="4.5"/>
<circle cx="465.4" cy="1348.6" r="4.5"/>
<circle cx="472.4" cy="1348.6" r="4.5"/>
<circle cx="479.4" cy="1348.6" r="4.5"/>
<circle cx="486.4" cy="1348.6" r="4.5"/>
<circle cx="493.4" cy="1348.6" r="4.5"/>
<circle cx="556.3" cy="1348.6" r="4.5"/>
<circle cx="402.5" cy="1354.3" r="4.5"/>
<circle cx="472.4" cy="1354.3" r="4.5"/>
<circle cx="479.4" cy="1354.3" r="4.5"/>
<circle cx="486.4" cy="1354.3" r="4.5"/>
<circle cx="507.4" cy="1354.3" r="4.5"/>
<circle cx="451.4" cy="1360" r="4.5"/>
<circle cx="493.4" cy="1360" r="4.5"/>
<circle cx="381.5" cy="1365.7" r="4.5"/>
<circle cx="409.5" cy="1365.7" r="4.5"/>
<circle cx="465.4" cy="1365.7" r="4.5"/>
<circle cx="528.3" cy="1365.7" r="4.5"/>
<circle cx="563.3" cy="1365.7" r="4.5"/>
<circle cx="416.5" cy="1371.3" r="4.5"/>
<circle cx="493.4" cy="1371.3" r="4.5"/>
<circle cx="339.6" cy="1377" r="4.5"/>
<circle cx="479.4" cy="1377" r="4.5"/>
<circle cx="493.4" cy="1377" r="4.5"/>
<circle cx="507.4" cy="1377" r="4.5"/>
<circle cx="374.6" cy="1382.7" r="4.5"/>
<circle cx="437.5" cy="1382.7" r="4.5"/>
<circle cx="465.4" cy="1382.7" r="4.5"/>
<circle cx="472.4" cy="1382.7" r="4.5"/>
<circle cx="479.4" cy="1382.7" r="4.5"/>
<circle cx="437.5" cy="1388.4" r="4.5"/>
<circle cx="479.4" cy="1388.4" r="4.5"/>
<circle cx="493.4" cy="1388.4" r="4.5"/>
<circle cx="738" cy="1388.4" r="4.5"/>
<circle cx="437.5" cy="1394.1" r="4.5"/>
<circle cx="465.4" cy="1394.1" r="4.5"/>
<circle cx="472.4" cy="1394.1" r="4.5"/>
<circle cx="493.4" cy="1394.1" r="4.5"/>
<circle cx="507.4" cy="1394.1" r="4.5"/>
<circle cx="535.3" cy="1394.1" r="4.5"/>
<circle cx="479.4" cy="1399.8" r="4.5"/>
<circle cx="493.4" cy="1399.8" r="4.5"/>
<circle cx="542.3" cy="1399.8" r="4.5"/>
<circle cx="395.5" cy="1405.5" r="4.5"/>
<circle cx="451.4" cy="1405.5" r="4.5"/>
<circle cx="507.4" cy="1405.5" r="4.5"/>
<circle cx="556.3" cy="1405.5" r="4.5"/>
<circle cx="409.5" cy="1411.2" r="4.5"/>
<circle cx="500.4" cy="1411.2" r="4.5"/>
<circle cx="458.4" cy="1416.9" r="4.5"/>
<circle cx="479.4" cy="1416.9" r="4.5"/>
<circle cx="528.3" cy="1416.9" r="4.5"/>
<circle cx="535.3" cy="1416.9" r="4.5"/>
<circle cx="472.4" cy="1422.6" r="4.5"/>
<circle cx="521.3" cy="1422.6" r="4.5"/>
<circle cx="528.3" cy="1422.6" r="4.5"/>
<circle cx="346.6" cy="1428.3" r="4.5"/>
<circle cx="479.4" cy="1428.3" r="4.5"/>
<circle cx="479.4" cy="1434" r="4.5"/>
<circle cx="451.4" cy="1456.7" r="4.5"/>
<circle cx="479.4" cy="1462.4" r="4.5"/>
<circle cx="493.4" cy="1462.4" r="4.5"/>
<circle cx="353.6" cy="1468.1" r="4.5"/>
<circle cx="437.5" cy="1468.1" r="4.5"/>
<circle cx="451.4" cy="1473.8" r="4.5"/>
<circle cx="423.5" cy="1479.5" r="4.5"/>
</g>
<line x1="168.8" y1="1402.2" x2="852.5" y2="1193.6" stroke="#444" stroke-width="1.6"/>
<rect x="107.3" y="1402.2" width="176.6" height="40.8" fill="#fff" stroke="#5c5c5c" stroke-width="1.7"/>
<text class="r" x="112.3" y="1430.2" font-size="25" textLength="169.6" lengthAdjust="spacingAndGlyphs">y=-0.03+0.03*x</text>
<text class="r" x="428.5" y="1017" font-size="25">R square = 0.043</text>
<text class="b" x="98.5" y="963.3" font-size="25.2" text-anchor="end" textLength="34" lengthAdjust="spacingAndGlyphs">.60</text>
<text class="b" x="98.5" y="1077.2" font-size="25.2" text-anchor="end" textLength="34" lengthAdjust="spacingAndGlyphs">.40</text>
<text class="b" x="98.5" y="1191" font-size="25.2" text-anchor="end" textLength="34" lengthAdjust="spacingAndGlyphs">.20</text>
<text class="b" x="98.5" y="1304.9" font-size="25.2" text-anchor="end" textLength="34" lengthAdjust="spacingAndGlyphs">.00</text>
<text class="b" x="98.5" y="1418.7" font-size="25.2" text-anchor="end" textLength="42.2" lengthAdjust="spacingAndGlyphs">-.20</text>
<text class="b" x="98.5" y="1532.6" font-size="25.2" text-anchor="end" textLength="42.2" lengthAdjust="spacingAndGlyphs">-.40</text>
<text class="b" x="98.5" y="1646.4" font-size="25.2" text-anchor="end" textLength="42.2" lengthAdjust="spacingAndGlyphs">-.60</text>
<text class="b" x="143.9" y="1701.5" font-size="25.2" text-anchor="middle" textLength="55.8" lengthAdjust="spacingAndGlyphs">-6.00</text>
<text class="b" x="255.7" y="1701.5" font-size="25.2" text-anchor="middle" textLength="55.8" lengthAdjust="spacingAndGlyphs">-4.00</text>
<text class="b" x="367.6" y="1701.5" font-size="25.2" text-anchor="middle" textLength="55.8" lengthAdjust="spacingAndGlyphs">-2.00</text>
<text class="b" x="479.4" y="1701.5" font-size="25.2" text-anchor="middle" textLength="34" lengthAdjust="spacingAndGlyphs">.00</text>
<text class="b" x="591.2" y="1701.5" font-size="25.2" text-anchor="middle" textLength="47.7" lengthAdjust="spacingAndGlyphs">2.00</text>
<text class="b" x="703.1" y="1701.5" font-size="25.2" text-anchor="middle" textLength="47.7" lengthAdjust="spacingAndGlyphs">4.00</text>
<text class="b" x="814.9" y="1701.5" font-size="25.2" text-anchor="middle" textLength="47.7" lengthAdjust="spacingAndGlyphs">6.00</text>
<text class="b" x="265" y="1753" font-size="24.6" textLength="427.7" lengthAdjust="spacingAndGlyphs">Refractive error difference (diopter)</text>
<text class="b" transform="translate(29 1291.2) rotate(-90)" font-size="24.6" text-anchor="middle" textLength="395.2" lengthAdjust="spacingAndGlyphs">Rim area difference (mm square)</text>
</g>
<g id="p4">
<g class="gv">
<line x1="1052.5" y1="912.9" x2="1052.5" y2="1671"/>
<line x1="1164.9" y1="912.9" x2="1164.9" y2="1671"/>
<line x1="1277.3" y1="912.9" x2="1277.3" y2="1671"/>
<line x1="1389.7" y1="912.9" x2="1389.7" y2="1671"/>
<line x1="1502.1" y1="912.9" x2="1502.1" y2="1671"/>
<line x1="1614.5" y1="912.9" x2="1614.5" y2="1671"/>
<line x1="1726.9" y1="912.9" x2="1726.9" y2="1671"/>
</g><g class="gh">
<line x1="1015.1" y1="950.2" x2="1764.5" y2="950.2"/>
<line x1="1015.1" y1="1121" x2="1764.5" y2="1121"/>
<line x1="1015.1" y1="1291.7" x2="1764.5" y2="1291.7"/>
<line x1="1015.1" y1="1462.5" x2="1764.5" y2="1462.5"/>
<line x1="1015.1" y1="1633.2" x2="1764.5" y2="1633.2"/>
</g>
<line x1="1015.1" y1="911.7" x2="1015.1" y2="1672" stroke="#888888" stroke-width="2"/>
<line x1="1014" y1="1671" x2="1764.5" y2="1671" stroke="#858585" stroke-width="2.4"/>
<g class="d">
<circle cx="1403.8" cy="975.8" r="4.5"/>
<circle cx="1361.6" cy="1018.5" r="4.5"/>
<circle cx="1460" cy="1069.7" r="4.5"/>
<circle cx="1284.3" cy="1103.9" r="4.5"/>
<circle cx="1396.7" cy="1112.4" r="4.5"/>
<circle cx="1396.7" cy="1121" r="4.5"/>
<circle cx="1417.8" cy="1121" r="4.5"/>
<circle cx="1249.2" cy="1138" r="4.5"/>
<circle cx="1368.6" cy="1138" r="4.5"/>
<circle cx="1389.7" cy="1138" r="4.5"/>
<circle cx="1417.8" cy="1138" r="4.5"/>
<circle cx="1488" cy="1138" r="4.5"/>
<circle cx="1417.8" cy="1146.6" r="4.5"/>
<circle cx="1467" cy="1146.6" r="4.5"/>
<circle cx="1354.6" cy="1155.1" r="4.5"/>
<circle cx="1403.8" cy="1155.1" r="4.5"/>
<circle cx="1375.7" cy="1163.6" r="4.5"/>
<circle cx="1382.7" cy="1163.6" r="4.5"/>
<circle cx="1389.7" cy="1163.6" r="4.5"/>
<circle cx="1417.8" cy="1163.6" r="4.5"/>
<circle cx="1382.7" cy="1172.2" r="4.5"/>
<circle cx="1319.5" cy="1180.7" r="4.5"/>
<circle cx="1340.5" cy="1180.7" r="4.5"/>
<circle cx="1382.7" cy="1180.7" r="4.5"/>
<circle cx="1396.7" cy="1180.7" r="4.5"/>
<circle cx="1417.8" cy="1180.7" r="4.5"/>
<circle cx="1389.7" cy="1189.2" r="4.5"/>
<circle cx="1389.7" cy="1197.8" r="4.5"/>
<circle cx="1417.8" cy="1197.8" r="4.5"/>
<circle cx="1319.5" cy="1206.3" r="4.5"/>
<circle cx="1333.5" cy="1206.3" r="4.5"/>
<circle cx="1347.5" cy="1206.3" r="4.5"/>
<circle cx="1389.7" cy="1206.3" r="4.5"/>
<circle cx="1431.9" cy="1206.3" r="4.5"/>
<circle cx="1347.5" cy="1214.9" r="4.5"/>
<circle cx="1361.6" cy="1214.9" r="4.5"/>
<circle cx="1382.7" cy="1214.9" r="4.5"/>
<circle cx="1396.7" cy="1214.9" r="4.5"/>
<circle cx="1403.8" cy="1214.9" r="4.5"/>
<circle cx="1312.4" cy="1223.4" r="4.5"/>
<circle cx="1361.6" cy="1223.4" r="4.5"/>
<circle cx="1375.7" cy="1223.4" r="4.5"/>
<circle cx="1389.7" cy="1223.4" r="4.5"/>
<circle cx="1403.8" cy="1223.4" r="4.5"/>
<circle cx="1424.8" cy="1223.4" r="4.5"/>
<circle cx="1431.9" cy="1223.4" r="4.5"/>
<circle cx="1438.9" cy="1223.4" r="4.5"/>
<circle cx="1488" cy="1223.4" r="4.5"/>
<circle cx="1565.3" cy="1223.4" r="4.5"/>
<circle cx="1340.5" cy="1231.9" r="4.5"/>
<circle cx="1354.6" cy="1231.9" r="4.5"/>
<circle cx="1361.6" cy="1231.9" r="4.5"/>
<circle cx="1410.8" cy="1231.9" r="4.5"/>
<circle cx="1417.8" cy="1231.9" r="4.5"/>
<circle cx="1467" cy="1231.9" r="4.5"/>
<circle cx="1361.6" cy="1240.5" r="4.5"/>
<circle cx="1382.7" cy="1240.5" r="4.5"/>
<circle cx="1389.7" cy="1240.5" r="4.5"/>
<circle cx="1396.7" cy="1240.5" r="4.5"/>
<circle cx="1403.8" cy="1240.5" r="4.5"/>
<circle cx="1305.4" cy="1249" r="4.5"/>
<circle cx="1347.5" cy="1249" r="4.5"/>
<circle cx="1361.6" cy="1249" r="4.5"/>
<circle cx="1368.6" cy="1249" r="4.5"/>
<circle cx="1375.7" cy="1249" r="4.5"/>
<circle cx="1382.7" cy="1249" r="4.5"/>
<circle cx="1389.7" cy="1249" r="4.5"/>
<circle cx="1403.8" cy="1249" r="4.5"/>
<circle cx="1431.9" cy="1249" r="4.5"/>
<circle cx="1460" cy="1249" r="4.5"/>
<circle cx="1256.2" cy="1257.5" r="4.5"/>
<circle cx="1347.5" cy="1257.5" r="4.5"/>
<circle cx="1368.6" cy="1257.5" r="4.5"/>
<circle cx="1375.7" cy="1257.5" r="4.5"/>
<circle cx="1382.7" cy="1257.5" r="4.5"/>
<circle cx="1389.7" cy="1257.5" r="4.5"/>
<circle cx="1396.7" cy="1257.5" r="4.5"/>
<circle cx="1403.8" cy="1257.5" r="4.5"/>
<circle cx="1445.9" cy="1257.5" r="4.5"/>
<circle cx="1284.3" cy="1266.1" r="4.5"/>
<circle cx="1326.5" cy="1266.1" r="4.5"/>
<circle cx="1333.5" cy="1266.1" r="4.5"/>
<circle cx="1375.7" cy="1266.1" r="4.5"/>
<circle cx="1389.7" cy="1266.1" r="4.5"/>
<circle cx="1396.7" cy="1266.1" r="4.5"/>
<circle cx="1403.8" cy="1266.1" r="4.5"/>
<circle cx="1417.8" cy="1266.1" r="4.5"/>
<circle cx="1438.9" cy="1266.1" r="4.5"/>
<circle cx="1502.1" cy="1266.1" r="4.5"/>
<circle cx="1305.4" cy="1274.6" r="4.5"/>
<circle cx="1319.5" cy="1274.6" r="4.5"/>
<circle cx="1347.5" cy="1274.6" r="4.5"/>
<circle cx="1382.7" cy="1274.6" r="4.5"/>
<circle cx="1389.7" cy="1274.6" r="4.5"/>
<circle cx="1396.7" cy="1274.6" r="4.5"/>
<circle cx="1403.8" cy="1274.6" r="4.5"/>
<circle cx="1417.8" cy="1274.6" r="4.5"/>
<circle cx="1431.9" cy="1274.6" r="4.5"/>
<circle cx="1467" cy="1274.6" r="4.5"/>
<circle cx="1221.1" cy="1283.2" r="4.5"/>
<circle cx="1368.6" cy="1283.2" r="4.5"/>
<circle cx="1375.7" cy="1283.2" r="4.5"/>
<circle cx="1389.7" cy="1283.2" r="4.5"/>
<circle cx="1396.7" cy="1283.2" r="4.5"/>
<circle cx="1403.8" cy="1283.2" r="4.5"/>
<circle cx="1410.8" cy="1283.2" r="4.5"/>
<circle cx="1445.9" cy="1283.2" r="4.5"/>
<circle cx="1354.6" cy="1291.7" r="4.5"/>
<circle cx="1361.6" cy="1291.7" r="4.5"/>
<circle cx="1375.7" cy="1291.7" r="4.5"/>
<circle cx="1382.7" cy="1291.7" r="4.5"/>
<circle cx="1389.7" cy="1291.7" r="4.5"/>
<circle cx="1396.7" cy="1291.7" r="4.5"/>
<circle cx="1403.8" cy="1291.7" r="4.5"/>
<circle cx="1410.8" cy="1291.7" r="4.5"/>
<circle cx="1417.8" cy="1291.7" r="4.5"/>
<circle cx="1431.9" cy="1291.7" r="4.5"/>
<circle cx="1326.5" cy="1300.2" r="4.5"/>
<circle cx="1361.6" cy="1300.2" r="4.5"/>
<circle cx="1368.6" cy="1300.2" r="4.5"/>
<circle cx="1382.7" cy="1300.2" r="4.5"/>
<circle cx="1389.7" cy="1300.2" r="4.5"/>
<circle cx="1403.8" cy="1300.2" r="4.5"/>
<circle cx="1417.8" cy="1300.2" r="4.5"/>
<circle cx="1431.9" cy="1300.2" r="4.5"/>
<circle cx="1438.9" cy="1300.2" r="4.5"/>
<circle cx="1305.4" cy="1308.8" r="4.5"/>
<circle cx="1361.6" cy="1308.8" r="4.5"/>
<circle cx="1368.6" cy="1308.8" r="4.5"/>
<circle cx="1375.7" cy="1308.8" r="4.5"/>
<circle cx="1382.7" cy="1308.8" r="4.5"/>
<circle cx="1396.7" cy="1308.8" r="4.5"/>
<circle cx="1403.8" cy="1308.8" r="4.5"/>
<circle cx="1410.8" cy="1308.8" r="4.5"/>
<circle cx="1417.8" cy="1308.8" r="4.5"/>
<circle cx="1431.9" cy="1308.8" r="4.5"/>
<circle cx="1474" cy="1308.8" r="4.5"/>
<circle cx="1375.7" cy="1317.3" r="4.5"/>
<circle cx="1382.7" cy="1317.3" r="4.5"/>
<circle cx="1389.7" cy="1317.3" r="4.5"/>
<circle cx="1403.8" cy="1317.3" r="4.5"/>
<circle cx="1410.8" cy="1317.3" r="4.5"/>
<circle cx="1424.8" cy="1317.3" r="4.5"/>
<circle cx="1474" cy="1317.3" r="4.5"/>
<circle cx="1488" cy="1317.3" r="4.5"/>
<circle cx="1509.1" cy="1317.3" r="4.5"/>
<circle cx="1558.3" cy="1317.3" r="4.5"/>
<circle cx="1649.6" cy="1317.3" r="4.5"/>
<circle cx="1333.5" cy="1325.9" r="4.5"/>
<circle cx="1375.7" cy="1325.9" r="4.5"/>
<circle cx="1382.7" cy="1325.9" r="4.5"/>
<circle cx="1389.7" cy="1325.9" r="4.5"/>
<circle cx="1403.8" cy="1325.9" r="4.5"/>
<circle cx="1410.8" cy="1325.9" r="4.5"/>
<circle cx="1431.9" cy="1325.9" r="4.5"/>
<circle cx="1445.9" cy="1325.9" r="4.5"/>
<circle cx="1452.9" cy="1325.9" r="4.5"/>
<circle cx="1263.2" cy="1334.4" r="4.5"/>
<circle cx="1361.6" cy="1334.4" r="4.5"/>
<circle cx="1389.7" cy="1334.4" r="4.5"/>
<circle cx="1396.7" cy="1334.4" r="4.5"/>
<circle cx="1410.8" cy="1334.4" r="4.5"/>
<circle cx="1424.8" cy="1334.4" r="4.5"/>
<circle cx="1431.9" cy="1334.4" r="4.5"/>
<circle cx="1291.4" cy="1342.9" r="4.5"/>
<circle cx="1305.4" cy="1342.9" r="4.5"/>
<circle cx="1375.7" cy="1342.9" r="4.5"/>
<circle cx="1396.7" cy="1342.9" r="4.5"/>
<circle cx="1403.8" cy="1342.9" r="4.5"/>
<circle cx="1438.9" cy="1342.9" r="4.5"/>
<circle cx="1340.5" cy="1351.5" r="4.5"/>
<circle cx="1375.7" cy="1351.5" r="4.5"/>
<circle cx="1382.7" cy="1351.5" r="4.5"/>
<circle cx="1403.8" cy="1351.5" r="4.5"/>
<circle cx="1417.8" cy="1351.5" r="4.5"/>
<circle cx="1452.9" cy="1351.5" r="4.5"/>
<circle cx="1523.2" cy="1351.5" r="4.5"/>
<circle cx="1361.6" cy="1360" r="4.5"/>
<circle cx="1389.7" cy="1360" r="4.5"/>
<circle cx="1438.9" cy="1360" r="4.5"/>
<circle cx="1551.3" cy="1360" r="4.5"/>
<circle cx="1354.6" cy="1368.5" r="4.5"/>
<circle cx="1389.7" cy="1368.5" r="4.5"/>
<circle cx="1396.7" cy="1368.5" r="4.5"/>
<circle cx="1403.8" cy="1368.5" r="4.5"/>
<circle cx="1375.7" cy="1377.1" r="4.5"/>
<circle cx="1389.7" cy="1377.1" r="4.5"/>
<circle cx="1417.8" cy="1377.1" r="4.5"/>
<circle cx="1361.6" cy="1385.6" r="4.5"/>
<circle cx="1389.7" cy="1385.6" r="4.5"/>
<circle cx="1403.8" cy="1385.6" r="4.5"/>
<circle cx="1452.9" cy="1385.6" r="4.5"/>
<circle cx="1389.7" cy="1394.2" r="4.5"/>
<circle cx="1396.7" cy="1402.7" r="4.5"/>
<circle cx="1249.2" cy="1411.2" r="4.5"/>
<circle cx="1389.7" cy="1411.2" r="4.5"/>
<circle cx="1396.7" cy="1411.2" r="4.5"/>
<circle cx="1403.8" cy="1419.8" r="4.5"/>
<circle cx="1537.2" cy="1419.8" r="4.5"/>
<circle cx="1361.6" cy="1428.3" r="4.5"/>
<circle cx="1410.8" cy="1445.4" r="4.5"/>
<circle cx="1445.9" cy="1445.4" r="4.5"/>
<circle cx="1389.7" cy="1453.9" r="4.5"/>
<circle cx="1403.8" cy="1453.9" r="4.5"/>
<circle cx="1361.6" cy="1462.5" r="4.5"/>
<circle cx="1438.9" cy="1462.5" r="4.5"/>
<circle cx="1256.2" cy="1471" r="4.5"/>
<circle cx="1263.2" cy="1471" r="4.5"/>
<circle cx="1340.5" cy="1488.1" r="4.5"/>
<circle cx="1347.5" cy="1488.1" r="4.5"/>
<circle cx="1403.8" cy="1488.1" r="4.5"/>
<circle cx="1410.8" cy="1488.1" r="4.5"/>
<circle cx="1389.7" cy="1530.8" r="4.5"/>
<circle cx="1347.5" cy="1573.4" r="4.5"/>
</g>
<line x1="1015.1" y1="1284" x2="1521.5" y2="1291.6" stroke="#444" stroke-width="1.6"/>
<rect x="1521.8" y="1275.5" width="241.1" height="40.4" fill="#fff" stroke="#5c5c5c" stroke-width="1.7"/>
<text class="r" x="1525.7" y="1303.9" font-size="25" textLength="235.3" lengthAdjust="spacingAndGlyphs">y=2.04E-3-9.63E-4*x</text>
<text class="r" x="1282" y="947" font-size="25">R square = -0.003</text>
<text class="b" x="1008" y="963.2" font-size="25.2" text-anchor="end" textLength="34" lengthAdjust="spacingAndGlyphs">.40</text>
<text class="b" x="1008" y="1134" font-size="25.2" text-anchor="end" textLength="34" lengthAdjust="spacingAndGlyphs">.20</text>
<text class="b" x="1008" y="1304.7" font-size="25.2" text-anchor="end" textLength="34" lengthAdjust="spacingAndGlyphs">.00</text>
<text class="b" x="1008" y="1475.5" font-size="25.2" text-anchor="end" textLength="42.2" lengthAdjust="spacingAndGlyphs">-.20</text>
<text class="b" x="1008" y="1646.2" font-size="25.2" text-anchor="end" textLength="42.2" lengthAdjust="spacingAndGlyphs">-.40</text>
<text class="b" x="1052.5" y="1701.5" font-size="25.2" text-anchor="middle" textLength="55.8" lengthAdjust="spacingAndGlyphs">-6.00</text>
<text class="b" x="1164.9" y="1701.5" font-size="25.2" text-anchor="middle" textLength="55.8" lengthAdjust="spacingAndGlyphs">-4.00</text>
<text class="b" x="1277.3" y="1701.5" font-size="25.2" text-anchor="middle" textLength="55.8" lengthAdjust="spacingAndGlyphs">-2.00</text>
<text class="b" x="1389.7" y="1701.5" font-size="25.2" text-anchor="middle" textLength="34" lengthAdjust="spacingAndGlyphs">.00</text>
<text class="b" x="1502.1" y="1701.5" font-size="25.2" text-anchor="middle" textLength="47.7" lengthAdjust="spacingAndGlyphs">2.00</text>
<text class="b" x="1614.5" y="1701.5" font-size="25.2" text-anchor="middle" textLength="47.7" lengthAdjust="spacingAndGlyphs">4.00</text>
<text class="b" x="1726.9" y="1701.5" font-size="25.2" text-anchor="middle" textLength="47.7" lengthAdjust="spacingAndGlyphs">6.00</text>
<text class="b" x="1176" y="1753" font-size="24.6" textLength="427.7" lengthAdjust="spacingAndGlyphs">Refractive error difference (diopter)</text>
<text class="b" transform="translate(937.2 1292.5) rotate(-90)" font-size="24.6" text-anchor="middle" textLength="433.8" lengthAdjust="spacingAndGlyphs">Average cup-to-disc ratio difference</text>
</g>
</svg></body></html>
